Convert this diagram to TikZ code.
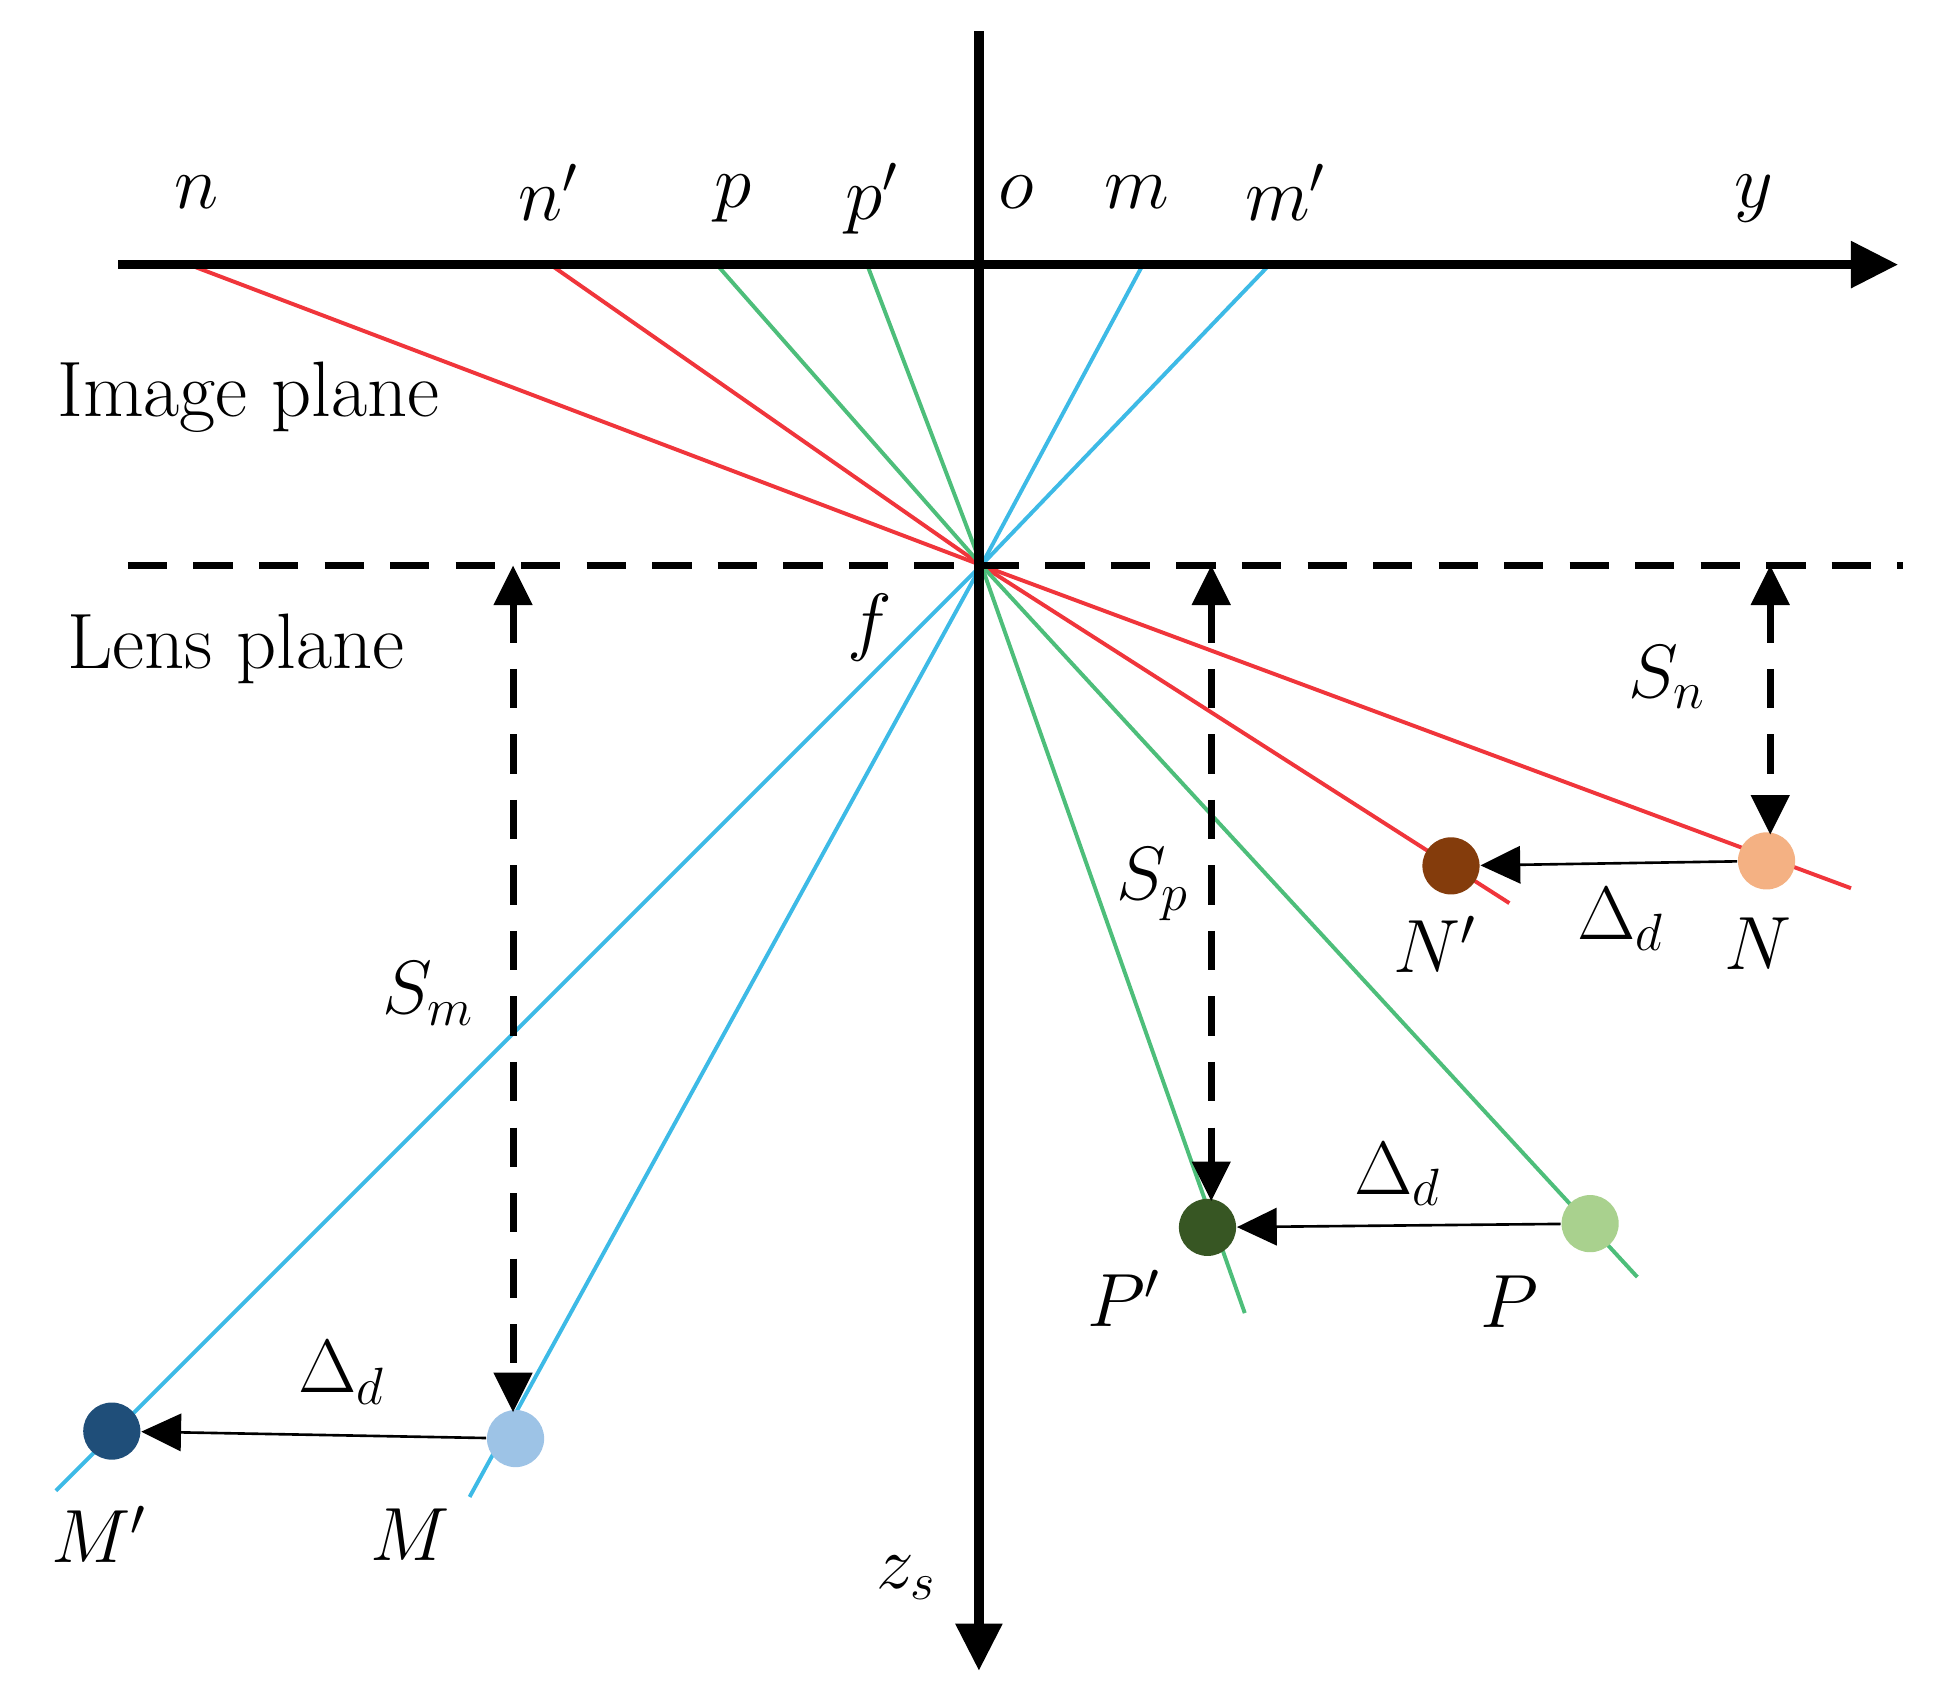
\documentclass[tikz,border=0pt]{standalone}
\usetikzlibrary{arrows.meta}
\begin{document}
\begin{tikzpicture}[x=0.01cm,y=-0.01cm,
  lbl/.style={font=\fontsize{18}{22}\selectfont},
  ray/.style={line width=0.9pt},
  dot/.style={circle,minimum size=0.46cm,inner sep=0},
  dshift/.style={line width=0.6pt,-{Triangle[length=0.32cm,width=0.3cm]}},
  dist/.style={line width=1.6pt,dashed,dash pattern=on 9pt off 6pt,{Triangle[length=0.32cm,width=0.3cm]}-{Triangle[length=0.32cm,width=0.3cm]}}]
\definecolor{rr}{HTML}{F0353B}
\definecolor{gg}{HTML}{4DBE7A}
\definecolor{bb}{HTML}{3DBAE6}
\useasboundingbox (0,0) rectangle (1556,1361);
\coordinate (ax0) at (95,213); \coordinate (ax1) at (1528,213);
\coordinate (vz0) at (788,25); \coordinate (vz1) at (788,1345);
\coordinate (F) at (790,455);
\coordinate (l0) at (103,455); \coordinate (l1) at (1532,455);
\coordinate (n) at (152,213); \coordinate (n2) at (443,213);
\coordinate (p) at (577,213); \coordinate (p2) at (698,213);
\coordinate (m) at (920,213); \coordinate (m2) at (1022,213);
\coordinate (en) at (1490,715); \coordinate (en2) at (1215,727);
\coordinate (ep) at (1318,1028); \coordinate (ep2) at (1002,1057);
\coordinate (em) at (45,1200); \coordinate (em2) at (378,1205);
\draw[ray,rr] (n) -- (F) -- (en);
\draw[ray,rr] (n2) -- (F) -- (en2);
\draw[ray,gg] (p) -- (F) -- (ep);
\draw[ray,gg] (p2) -- (F) -- (ep2);
\draw[ray,bb] (m) -- (F) -- (em);
\draw[ray,bb] (m2) -- (F) -- (em2);
\draw[line width=1.6pt,dashed,dash pattern=on 9pt off 6pt] (l0) -- (l1);
\draw[line width=2.2pt,-{Triangle[length=0.38cm,width=0.36cm]}] (ax0) -- (ax1);
\draw[line width=2.2pt,-{Triangle[length=0.38cm,width=0.36cm]}] (vz0) -- (vz1);
\node[dot,fill={rgb,255:red,244;green,177;blue,131}] (N) at (1422,693) {};
\node[dot,fill={rgb,255:red,132;green,60;blue,12}] (N2) at (1168,697) {};
\node[dot,fill={rgb,255:red,169;green,209;blue,142}] (P) at (1280,985) {};
\node[dot,fill={rgb,255:red,55;green,86;blue,35}] (P2) at (972,988) {};
\node[dot,fill={rgb,255:red,157;green,195;blue,230}] (M) at (415,1158) {};
\node[dot,fill={rgb,255:red,31;green,78;blue,121}] (M2) at (90,1152) {};
\draw[dshift] (N) -- (N2);
\draw[dshift] (P) -- (P2);
\draw[dshift] (M) -- (M2);
\coordinate (sm0) at (413,455); \coordinate (sm1) at (413,1137);
\coordinate (sp0) at (975,455); \coordinate (sp1) at (975,967);
\coordinate (sn0) at (1425,455); \coordinate (sn1) at (1425,672);
\draw[dist] (sm0) -- (sm1);
\draw[dist] (sp0) -- (sp1);
\draw[dist] (sn0) -- (sn1);
\node[lbl] (tn) at (158,155) {$n$};
\node[lbl] (tn2) at (442,155) {$n'$};
\node[lbl] (tp) at (590,160) {$p$};
\node[lbl] (tp2) at (702,160) {$p'$};
\node[lbl] (to) at (818,155) {$o$};
\node[lbl] (tm) at (915,155) {$m$};
\node[lbl] (tm2) at (1035,155) {$m'$};
\node[lbl] (ty) at (1412,160) {$y$};
\node[lbl] (ti) at (200,320) {Image plane};
\node[lbl] (tl) at (190,522) {Lens plane};
\node[lbl] (tf) at (700,505) {$f$};
\node[lbl] (tN) at (1415,760) {$N$};
\node[lbl] (tN2) at (1155,760) {$N'$};
\node[lbl] (tdn) at (1305,740) {$\Delta_d$};
\node[lbl] (tP) at (1215,1048) {$P$};
\node[lbl] (tP2) at (905,1045) {$P'$};
\node[lbl] (tdp) at (1125,945) {$\Delta_d$};
\node[lbl] (tM) at (330,1235) {$M$};
\node[lbl] (tM2) at (80,1235) {$M'$};
\node[lbl] (tdm) at (275,1105) {$\Delta_d$};
\node[lbl] (tsm) at (345,800) {$S_m$};
\node[lbl] (tsp) at (928,712) {$S_p$};
\node[lbl] (tsn) at (1342,545) {$S_n$};
\node[lbl] (tz) at (730,1270) {$z_s$};
\end{tikzpicture}
\end{document}
